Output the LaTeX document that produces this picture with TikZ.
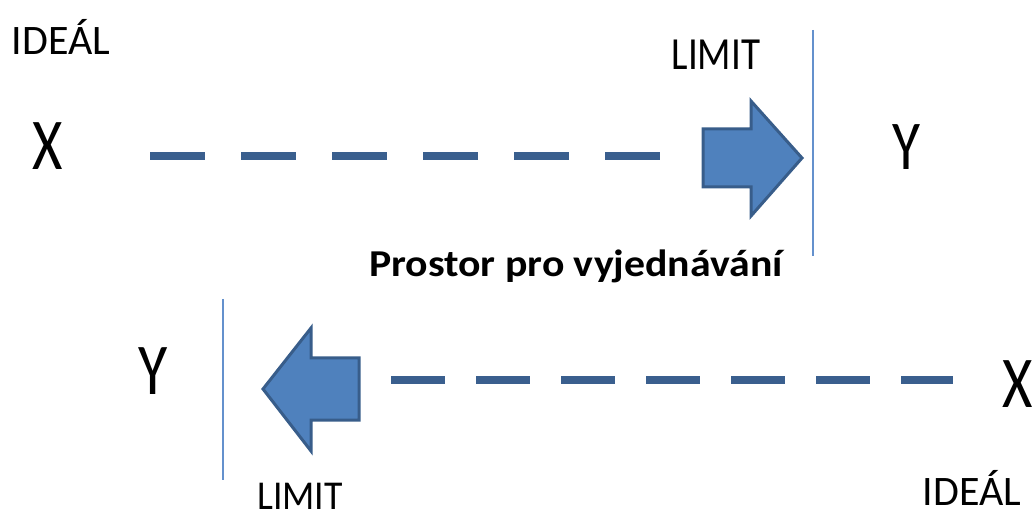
\documentclass[tikz,border=0pt]{standalone}
\usepackage{fontspec}
\setmainfont{Carlito}
\begin{document}
\begin{tikzpicture}[x=1pt,y=-1pt,
  lbl/.style={anchor=base, inner sep=0pt, text=black},
  dashline/.style={line width=7.5pt, draw=dashblue, dash pattern=on 55pt off 36pt},
  bigarrow/.style={fill=arrowfill, draw=arrowedge, line width=3pt, line join=miter},
  limitline/.style={draw=limitblue, line width=1.6pt}]
\definecolor{dashblue}{RGB}{58,95,142}
\definecolor{arrowfill}{RGB}{79,129,189}
\definecolor{arrowedge}{RGB}{56,93,138}
\definecolor{limitblue}{RGB}{100,145,205}
\useasboundingbox (0,0) rectangle (1036,518);

% upper row: X moves towards its limit
\node[lbl, font=\fontsize{42}{46}\selectfont] (idealA) at (61,55) {IDEÁL};
\node[lbl, font=\fontsize{73}{80}\selectfont] (xA) at (48,170) {\scalebox{0.8}[1]{X}};
\node[lbl, font=\fontsize{46}{50}\selectfont] (limitA) at (716,70) {\scalebox{0.85}[1]{LIMIT}};
\node[lbl, font=\fontsize{70}{76}\selectfont] (yA) at (906,170) {\scalebox{0.82}[1]{Y}};
\coordinate (dashA1) at (150,156);
\coordinate (dashA2) at (660,156);
\draw[dashline] (dashA1) -- (dashA2);
\draw[bigarrow] (703,129) -- (751,129) -- (751,101) -- (802,158) -- (751,216)
  -- (751,187) -- (703,187) -- cycle;
\coordinate (limA1) at (813,30);
\coordinate (limA2) at (813,256);
\draw[limitline] (limA1) -- (limA2);

% bargaining zone
\node[lbl, font=\fontsize{38}{42}\selectfont\bfseries] (zone) at (576,277) {\scalebox{1.1}[1]{Prostor pro vyjednávání}};

% lower row: Y moves towards its limit
\node[lbl, font=\fontsize{73}{80}\selectfont] (yB) at (153,395) {\scalebox{0.82}[1]{Y}};
\coordinate (limB1) at (223,299);
\coordinate (limB2) at (223,480);
\draw[limitline] (limB1) -- (limB2);
\draw[bigarrow] (359,358) -- (311,358) -- (311,328) -- (263,389) -- (311,451)
  -- (311,420) -- (359,420) -- cycle;
\coordinate (dashB1) at (391,380);
\coordinate (dashB2) at (953,380);
\draw[dashline, dash pattern=on 54pt off 31pt] (dashB1) -- (dashB2);
\node[lbl, font=\fontsize{73}{80}\selectfont] (xB) at (1018,407) {\scalebox{0.8}[1]{X}};
\node[lbl, font=\fontsize{41}{45}\selectfont] (limitB) at (300,509) {\scalebox{0.92}[1]{LIMIT}};
\node[lbl, font=\fontsize{42}{46}\selectfont] (idealB) at (972,505) {IDEÁL};
\end{tikzpicture}
\end{document}
